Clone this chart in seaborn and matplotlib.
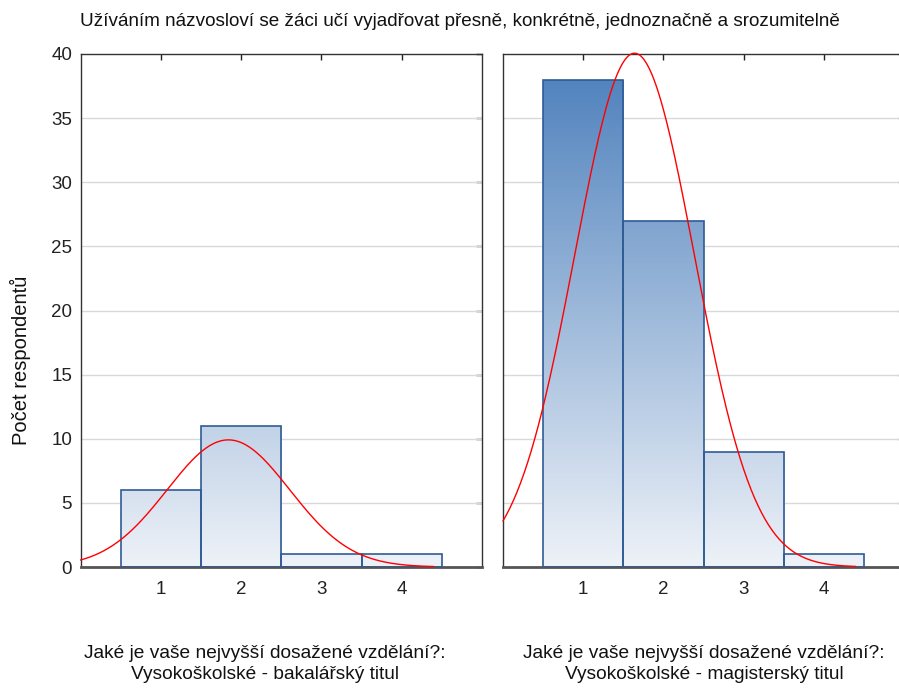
import numpy as np
import pandas as pd
import seaborn as sns
import matplotlib.pyplot as plt
from matplotlib.colors import LinearSegmentedColormap

# data
values = [1, 2, 3, 4]
bak_counts = [6, 11, 1, 1]
mag_counts = [38, 27, 9, 1]
panel_labels = ['Jaké je vaše nejvyšší dosažené vzdělání?:\nVysokoškolské - bakalářský titul',
                'Jaké je vaše nejvyšší dosažené vzdělání?:\nVysokoškolské - magisterský titul']
title = 'Užíváním názvosloví se žáci učí vyjadřovat přesně, konkrétně, jednoznačně a srozumitelně'
ylabel = 'Počet respondentů'

sns.set_style('white')
plt.rcParams['font.family'] = ['Liberation Sans', 'DejaVu Sans']

fig = plt.figure(figsize=(8.99, 6.89), dpi=100)
W, H = 899, 689
ax1 = fig.add_axes([80.5 / W, 1 - 567 / H, (482 - 80.5) / W, (567 - 54) / H])
ax2 = fig.add_axes([503 / W, 1 - 567 / H, 401 / W, (567 - 54) / H])

# gradient vyplne sloupcu
grad = LinearSegmentedColormap.from_list('g', ['#eef2f8', '#4a7ebb'])
gy = np.linspace(0, 1, 256).reshape(-1, 1)

for ax, counts in [(ax1, bak_counts), (ax2, mag_counts)]:
    df = pd.DataFrame({'hodnota': values, 'pocet': counts})
    sns.histplot(data=df, x='hodnota', weights='pocet', discrete=True, ax=ax,
                 edgecolor='#2f5b96', linewidth=1.2, facecolor='none', zorder=3)
    for p in ax.patches:
        im = ax.imshow(gy, cmap=grad, origin='lower', aspect='auto',
                       extent=[0, 5, 0, 40], zorder=2)
        im.set_clip_path(p)

    # normalni krivka z dat
    v = np.array(values, dtype=float)
    c = np.array(counts, dtype=float)
    n = c.sum()
    mu = np.average(v, weights=c)
    sd = np.sqrt(np.sum(c * (v - mu) ** 2) / (n - 1))
    xs = np.linspace(0, 4.4, 300)
    ys = n / (sd * np.sqrt(2 * np.pi)) * np.exp(-0.5 * ((xs - mu) / sd) ** 2)
    ax.plot(xs, ys, color='red', lw=1, zorder=4, clip_on=False)

    ax.set_xlim(0, 5)
    ax.set_ylim(0, 40)
    ax.set_xticks(values)
    ax.set_yticks(range(0, 41, 5))
    for yv in range(5, 40, 5):
        ax.axhline(yv, color='#d9d9d9', lw=1, zorder=1)
    ax.set_xlabel('')
    ax.set_ylabel('')
    ax.tick_params(direction='in', length=4, width=1, top=True, right=True,
                   labelsize=13.5, pad=10, colors='#222222')
    ax.tick_params(axis='y', pad=6)
    for s in ['left', 'right', 'top']:
        ax.spines[s].set_color('#333333')
        ax.spines[s].set_linewidth(1)
    ax.spines['bottom'].set_color('#555555')
    ax.spines['bottom'].set_linewidth(2)

ax2.tick_params(labelleft=False)

fig.text(80 / W, 1 - 22 / H, title, fontsize=13.6, ha='left', va='center', color='#111111')
fig.text(20 / W, 1 - 360 / H, ylabel, fontsize=14.5, rotation=90, ha='center', va='center', color='#111111')
fig.text(265 / W, 1 - 664 / H, panel_labels[0], fontsize=13.8, ha='center', va='center',
         linespacing=1.32, color='#111111')
fig.text(704 / W, 1 - 664 / H, panel_labels[1], fontsize=13.8, ha='center', va='center',
         linespacing=1.32, color='#111111')

fig.savefig('out.png', dpi=100)
